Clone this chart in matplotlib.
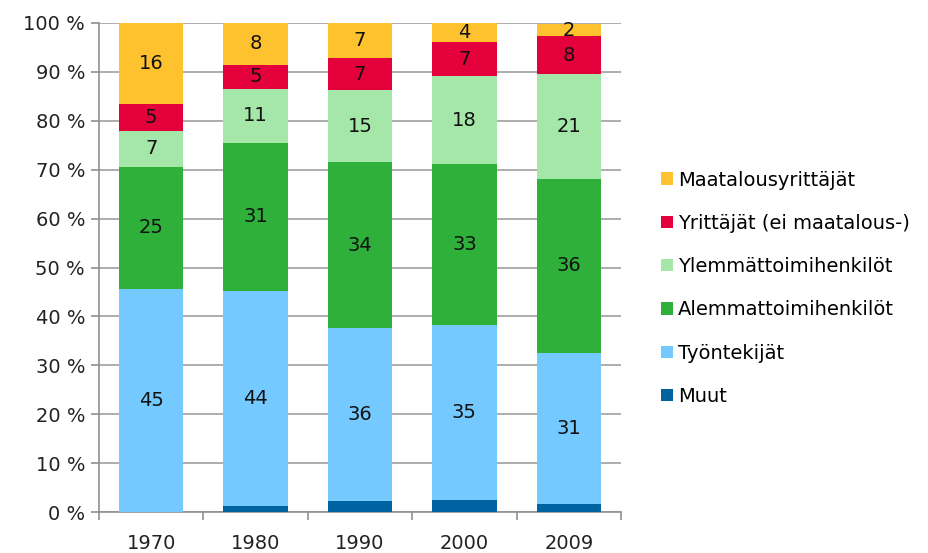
import numpy as np
import matplotlib.pyplot as plt

plt.rcParams['font.family'] = ['DejaVu Sans']

years = ["1970", "1980", "1990", "2000", "2009"]
series = ["Muut", "Työntekijät", "Alemmattoimihenkilöt", "Ylemmättoimihenkilöt",
          "Yrittäjät (ei maatalous-)", "Maatalousyrittäjät"]
muut = [0.0, 1.3, 2.2, 2.5, 1.7]
tyontekijat = [45.6, 43.9, 35.5, 35.7, 30.8]
alemmat = [25.0, 30.3, 33.8, 32.9, 35.7]
ylemmat = [7.4, 11.1, 14.8, 18.0, 21.4]
yrittajat = [5.4, 4.9, 6.5, 7.0, 7.7]
maatalous = [16.6, 8.5, 7.2, 3.9, 2.4]
labels = [None, [45, 44, 36, 35, 31], [25, 31, 34, 33, 36], [7, 11, 15, 18, 21],
          [5, 5, 7, 7, 8], [16, 8, 7, 4, 2]]
colors = ["#0063A1", "#74C9FF", "#2EB03A", "#A5E7A9", "#E4003A", "#FFC22F"]

data = [muut, tyontekijat, alemmat, ylemmat, yrittajat, maatalous]

fig = plt.figure(figsize=(9.29, 5.53), dpi=100)
ax = fig.add_axes([99 / 929, 1 - 512 / 553, 522 / 929, 489 / 553])

x = np.arange(len(years))
bottom = np.zeros(len(years))
handles = []
for vals, lab, col, name in zip(data, labels, colors, series):
    vals = np.array(vals)
    b = ax.bar(x, vals, 0.615, bottom=bottom, color=col, zorder=3, label=name)
    handles.append(b)
    if lab is not None:
        for xi, v, bt, t in zip(x, vals, bottom, lab):
            ax.text(xi, bt + v / 2, str(t), ha="center", va="center",
                    fontsize=14, color="#111111", zorder=4)
    bottom += vals

ax.set_xlim(-0.5, len(years) - 0.5)
ax.set_ylim(0, 100)
ax.set_yticks(np.arange(0, 101, 10))
ax.set_yticklabels([f"{v} %" for v in range(0, 101, 10)], fontsize=14, color="#222222")
ax.set_xticks(x)
ax.set_xticklabels(years, fontsize=14, color="#222222")
ax.set_xticks(np.arange(-0.5, len(years), 1), minor=True)
ax.tick_params(axis="x", which="major", length=0, pad=16)
ax.tick_params(axis="x", which="minor", length=6, color="#909090", width=1.2)
ax.tick_params(axis="y", length=6, color="#909090", width=1.2, pad=4)
ax.yaxis.grid(True, color="#a0a0a0", lw=1.2, zorder=0)
for s in ["top", "right"]:
    ax.spines[s].set_visible(False)
for s in ["left", "bottom"]:
    ax.spines[s].set_color("#909090")
    ax.spines[s].set_linewidth(1.2)

fig.legend(handles[::-1], series[::-1], loc="upper left",
           bbox_to_anchor=(644 / 929, 1 - 153 / 553), frameon=False,
           fontsize=14, handlelength=0.6, handleheight=0.6, handletextpad=0.25,
           labelspacing=1.25)

fig.savefig("out.png", dpi=100)
